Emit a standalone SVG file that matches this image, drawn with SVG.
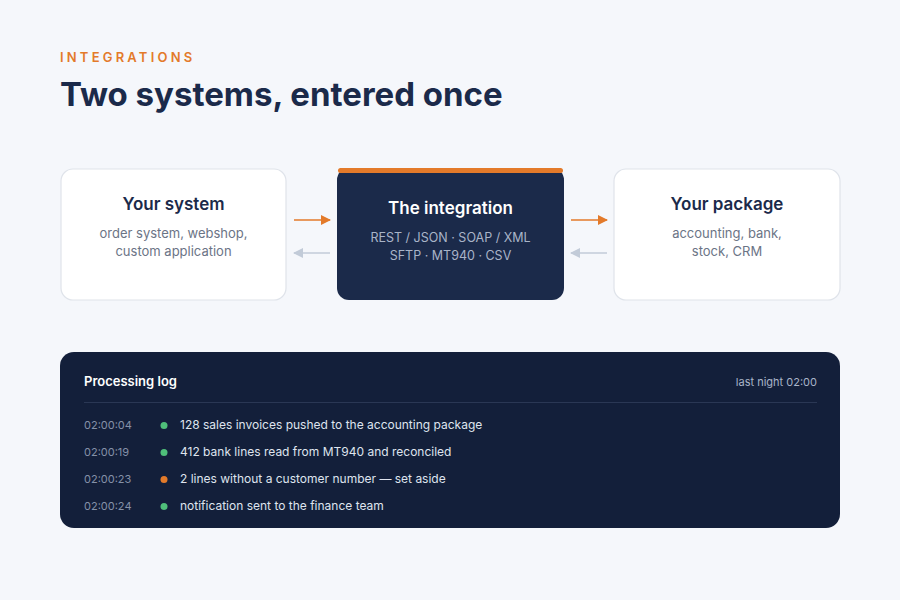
<svg xmlns="http://www.w3.org/2000/svg" width="900" height="600" viewBox="0 0 900 600">
<defs>
<style>
text{font-family:Inter,"Open Sans","Liberation Sans",sans-serif}
.card{fill:#fff;stroke:#dfe3ea;stroke-width:1.2}
.ct{font-size:17px;font-weight:600;fill:#1b2a4a;text-anchor:middle}
.cs{font-size:13px;fill:#6b7486;text-anchor:middle}
.tm{font-size:11px;fill:#8591a8}
.lt{font-size:12px;fill:#dfe4ee}
</style>
<marker id="ao" viewBox="0 0 10 10" refX="9" refY="5" markerWidth="10" markerHeight="10" markerUnits="userSpaceOnUse" orient="auto"><path d="M0 0L10 5L0 10z" fill="#e37a2a"/></marker>
<marker id="ag" viewBox="0 0 10 10" refX="9" refY="5" markerWidth="10" markerHeight="10" markerUnits="userSpaceOnUse" orient="auto"><path d="M0 0L10 5L0 10z" fill="#c2cbd8"/></marker>
</defs>
<rect width="900" height="600" fill="#f5f7fb"/>
<text x="60" y="62" font-size="13" font-weight="600" fill="#e37a2a" letter-spacing="3.2">INTEGRATIONS</text>
<text x="60" y="106" font-size="33" font-weight="700" fill="#1b2a4a">Two systems, entered once</text>
<g id="your-system"><rect class="card" x="61" y="169" width="225" height="131" rx="12"/>
<text class="ct" x="173.5" y="210">Your system</text>
<text class="cs" x="173.5" y="238">order system, webshop,</text><text class="cs" x="173.5" y="256">custom application</text></g>
<g id="integration"><rect x="337" y="168" width="227" height="132" rx="12" fill="#1b2a4a"/>
<rect x="338" y="168" width="225" height="5" rx="2.5" fill="#e37a2a"/>
<text x="450.5" y="214" font-size="17" font-weight="600" fill="#fff" text-anchor="middle">The integration</text>
<text x="450.5" y="242" font-size="12.5" fill="#a9b4c8" text-anchor="middle">REST / JSON  ·  SOAP / XML</text>
<text x="450.5" y="260" font-size="12.5" fill="#a9b4c8" text-anchor="middle">SFTP  ·  MT940  ·  CSV</text></g>
<g id="your-package"><rect class="card" x="614" y="169" width="226" height="131" rx="12"/>
<text class="ct" x="727" y="210">Your package</text>
<text class="cs" x="727" y="238">accounting, bank,</text><text class="cs" x="727" y="256">stock, CRM</text></g>
<g id="connectors" stroke-width="1.3">
<line x1="294" y1="220" x2="330" y2="220" stroke="#e37a2a" marker-end="url(#ao)"/>
<line x1="330" y1="253" x2="294" y2="253" stroke="#c2cbd8" marker-end="url(#ag)"/>
<line x1="571" y1="220" x2="607" y2="220" stroke="#e37a2a" marker-end="url(#ao)"/>
<line x1="607" y1="253" x2="571" y2="253" stroke="#c2cbd8" marker-end="url(#ag)"/>
</g>
<g id="log"><rect x="60" y="352" width="780" height="176" rx="14" fill="#131f3a"/>
<text x="84" y="386" font-size="13" font-weight="600" fill="#fff">Processing log</text>
<text x="817" y="386" font-size="11" fill="#a9b4c8" text-anchor="end">last night  02:00</text>
<line x1="84" y1="402.5" x2="817" y2="402.5" stroke="#2a3754"/>
<text class="tm" x="84" y="429">02:00:04</text><circle cx="164" cy="425.5" r="3.5" fill="#4fbf7a"/><text class="lt" x="180" y="429">128 sales invoices pushed to the accounting package</text>
<text class="tm" x="84" y="456">02:00:19</text><circle cx="164" cy="452.5" r="3.5" fill="#4fbf7a"/><text class="lt" x="180" y="456">412 bank lines read from MT940 and reconciled</text>
<text class="tm" x="84" y="483">02:00:23</text><circle cx="164" cy="479.5" r="3.5" fill="#e37a2a"/><text class="lt" x="180" y="483">2 lines without a customer number — set aside</text>
<text class="tm" x="84" y="510">02:00:24</text><circle cx="164" cy="506.5" r="3.5" fill="#4fbf7a"/><text class="lt" x="180" y="510">notification sent to the finance team</text>
</g>
</svg>
